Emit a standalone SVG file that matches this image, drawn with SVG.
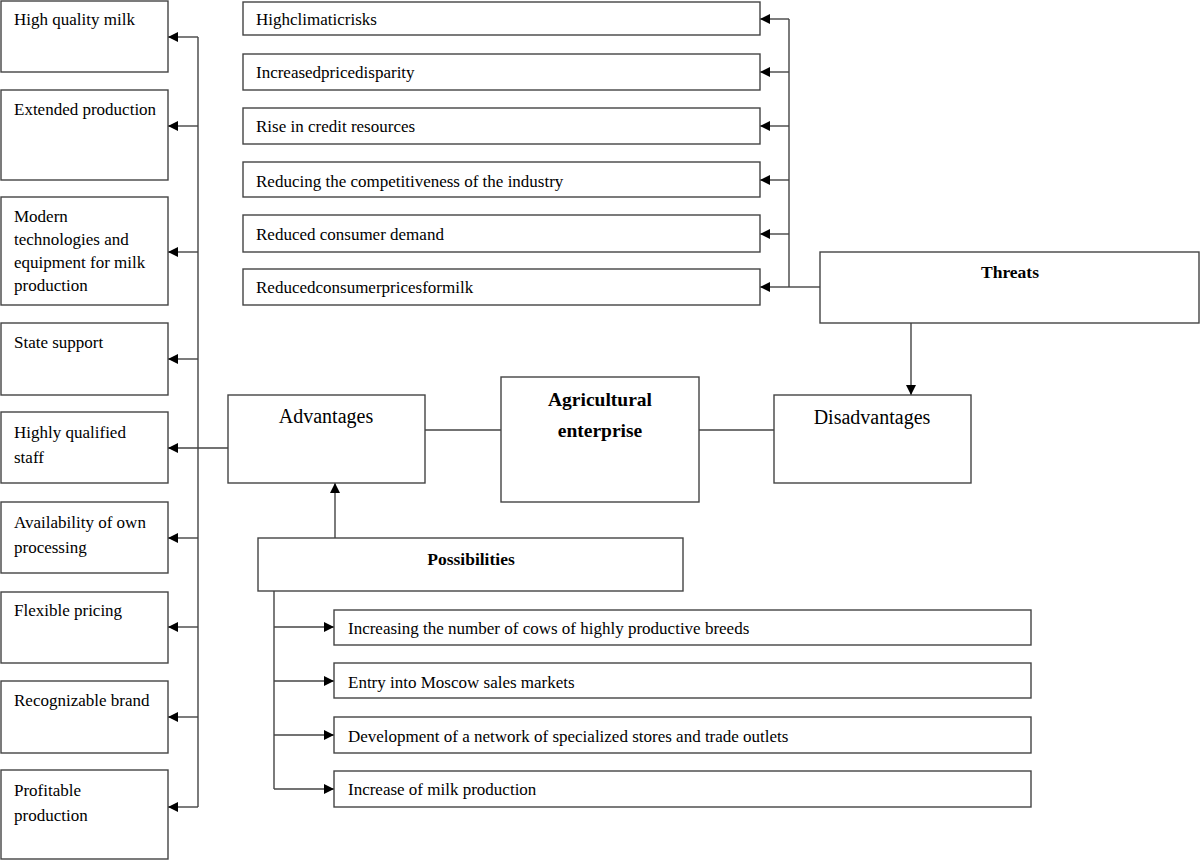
<svg xmlns="http://www.w3.org/2000/svg" width="1200" height="861" viewBox="0 0 1200 861">
<defs>
<marker id="arr" viewBox="0 0 10 10" refX="10" refY="5" markerWidth="10" markerHeight="10" markerUnits="userSpaceOnUse" orient="auto">
<path d="M0,0 L10,5 L0,10 Z" fill="#000"/>
</marker>
</defs>
<style>
rect{fill:#fff;stroke:#444;stroke-width:1.4}
text{fill:#000}
.t{font-size:17px}
.big{font-size:20px;text-anchor:middle}
.b{font-weight:bold;text-anchor:middle}
.c line,.c path{stroke:#444;stroke-width:1.4;fill:none}
.c .a{marker-end:url(#arr)}
</style>
<rect x="0" y="0" width="1200" height="861" style="fill:#fff;stroke:none"/>
<g class="c" id="connectors">
<line x1="198" y1="37" x2="198" y2="807"/>
<line class="a" x1="198" y1="37" x2="168" y2="37"/>
<line class="a" x1="198" y1="126" x2="168" y2="126"/>
<line class="a" x1="198" y1="252" x2="168" y2="252"/>
<line class="a" x1="198" y1="359" x2="168" y2="359"/>
<line class="a" x1="228" y1="448" x2="168" y2="448"/>
<line class="a" x1="198" y1="538" x2="168" y2="538"/>
<line class="a" x1="198" y1="627" x2="168" y2="627"/>
<line class="a" x1="198" y1="717" x2="168" y2="717"/>
<line class="a" x1="198" y1="807" x2="168" y2="807"/>
<line x1="789" y1="19" x2="789" y2="287"/>
<line x1="820" y1="287" x2="789" y2="287"/>
<line class="a" x1="789" y1="19" x2="760" y2="19"/>
<line class="a" x1="789" y1="72" x2="760" y2="72"/>
<line class="a" x1="789" y1="126" x2="760" y2="126"/>
<line class="a" x1="789" y1="180" x2="760" y2="180"/>
<line class="a" x1="789" y1="234" x2="760" y2="234"/>
<line class="a" x1="789" y1="287" x2="760" y2="287"/>
<line class="a" x1="911" y1="323" x2="911" y2="395"/>
<line x1="425" y1="430" x2="501" y2="430"/>
<line x1="699" y1="430" x2="774" y2="430"/>
<line class="a" x1="335" y1="538" x2="335" y2="483"/>
<line x1="274" y1="591" x2="274" y2="789"/>
<line class="a" x1="274" y1="627" x2="334" y2="627"/>
<line class="a" x1="274" y1="681" x2="334" y2="681"/>
<line class="a" x1="274" y1="735" x2="334" y2="735"/>
<line class="a" x1="274" y1="789" x2="334" y2="789"/>
</g>
<g font-family="Liberation Serif, Tinos, Times New Roman, serif">
<g id="adv1"><rect x="1" y="1" width="167" height="71"/><text class="t" x="14" y="25">High quality milk</text></g>
<g id="adv2"><rect x="1" y="90" width="167" height="90"/><text class="t" x="14" y="115">Extended production</text></g>
<g id="adv3"><rect x="1" y="197" width="167" height="108"/><text class="t" x="14" y="222">Modern</text><text class="t" x="14" y="245">technologies and</text><text class="t" x="14" y="268">equipment for milk</text><text class="t" x="14" y="291">production</text></g>
<g id="adv4"><rect x="1" y="323" width="167" height="72"/><text class="t" x="14" y="348">State support</text></g>
<g id="adv5"><rect x="1" y="412" width="167" height="71"/><text class="t" x="14" y="438">Highly qualified</text><text class="t" x="14" y="463">staff</text></g>
<g id="adv6"><rect x="1" y="502" width="167" height="71"/><text class="t" x="14" y="528">Availability of own</text><text class="t" x="14" y="553">processing</text></g>
<g id="adv7"><rect x="1" y="592" width="167" height="71"/><text class="t" x="14" y="616">Flexible pricing</text></g>
<g id="adv8"><rect x="1" y="681" width="167" height="72"/><text class="t" x="14" y="706">Recognizable brand</text></g>
<g id="adv9"><rect x="1" y="770" width="167" height="89"/><text class="t" x="14" y="796">Profitable</text><text class="t" x="14" y="821">production</text></g>
<g id="thr1"><rect x="243" y="2" width="517" height="33"/><text class="t" x="256" y="25">Highclimaticrisks</text></g>
<g id="thr2"><rect x="243" y="54" width="517" height="36"/><text class="t" x="256" y="78">Increasedpricedisparity</text></g>
<g id="thr3"><rect x="243" y="108" width="517" height="36"/><text class="t" x="256" y="132">Rise in credit resources</text></g>
<g id="thr4"><rect x="243" y="162" width="517" height="35"/><text class="t" x="256" y="187">Reducing the competitiveness of the industry</text></g>
<g id="thr5"><rect x="243" y="215" width="517" height="37"/><text class="t" x="256" y="240">Reduced consumer demand</text></g>
<g id="thr6"><rect x="243" y="269" width="517" height="36"/><text class="t" x="256" y="293">Reducedconsumerpricesformilk</text></g>
<g id="threats"><rect x="820" y="252" width="379" height="71"/><text class="b" x="1010" y="278" font-size="17.5">Threats</text></g>
<g id="advantages"><rect x="228" y="395" width="197" height="88"/><text class="big" x="326" y="423">Advantages</text></g>
<g id="enterprise"><rect x="501" y="377" width="198" height="125"/><text class="b" x="600" y="406" font-size="19.5">Agricultural</text><text class="b" x="600" y="437" font-size="19.5">enterprise</text></g>
<g id="disadvantages"><rect x="774" y="395" width="197" height="88"/><text class="big" x="872" y="424">Disadvantages</text></g>
<g id="possibilities"><rect x="258" y="538" width="425" height="53"/><text class="b" x="471" y="565" font-size="17.5">Possibilities</text></g>
<g id="pos1"><rect x="334" y="610" width="697" height="35"/><text class="t" x="348" y="634">Increasing the number of cows of highly productive breeds</text></g>
<g id="pos2"><rect x="334" y="663" width="697" height="35"/><text class="t" x="348" y="688">Entry into Moscow sales markets</text></g>
<g id="pos3"><rect x="334" y="717" width="697" height="36"/><text class="t" x="348" y="742">Development of a network of specialized stores and trade outlets</text></g>
<g id="pos4"><rect x="334" y="771" width="697" height="36"/><text class="t" x="348" y="795">Increase of milk production</text></g>
</g>
</svg>
